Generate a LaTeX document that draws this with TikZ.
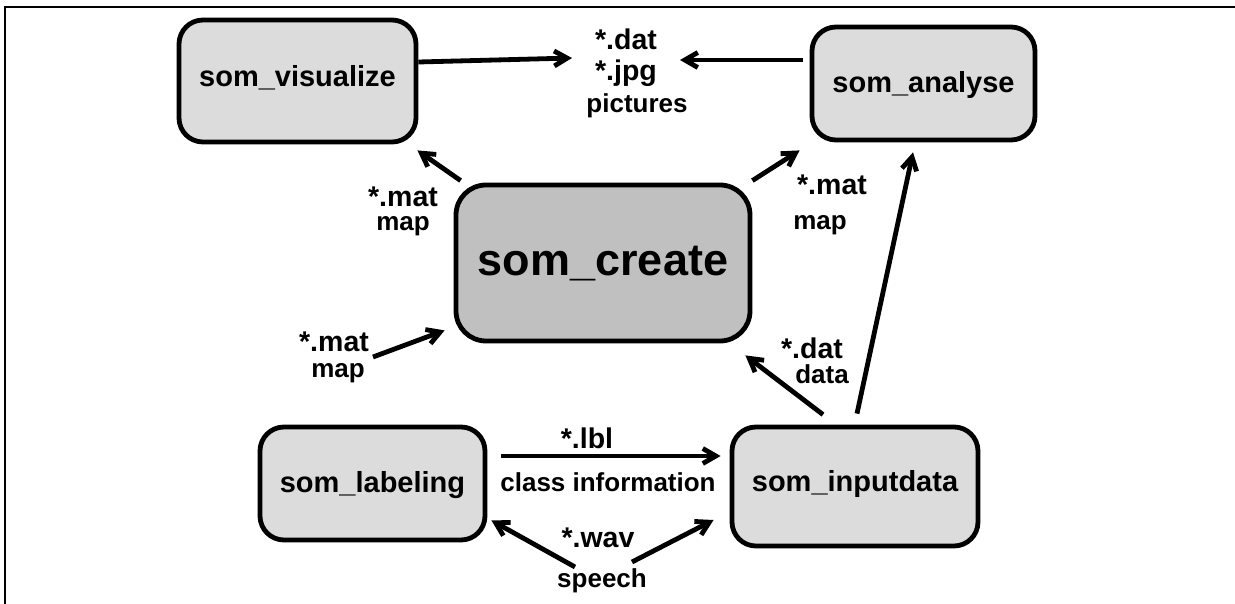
\documentclass[tikz,border=0pt]{standalone}
\usepackage{fontspec}
\setmainfont{Liberation Sans}
\usetikzlibrary{arrows.meta}
\definecolor{boxlight}{HTML}{DCDCDC}
\definecolor{boxdark}{HTML}{C0C0C0}
\begin{document}
\begin{tikzpicture}[x=1pt,y=-1pt,
  box/.style={draw, line width=4.8pt, rounded corners=24pt, fill=boxlight, inner sep=0pt,
              text height=21pt, text depth=0pt, font=\bfseries\fontsize{29}{34}\selectfont},
  ext/.style={anchor=base, inner sep=0pt, font=\bfseries\fontsize{28.5}{34}\selectfont},
  desc/.style={anchor=base, inner sep=0pt, font=\bfseries\fontsize{26}{31}\selectfont},
  arr/.style={line width=4.8pt, -{Straight Barb[length=13pt,width=15pt]}},
  frameline/.style={line width=2.5pt}
]
\useasboundingbox (0,0) rectangle (1235,604);
\fill[white] (0,0) rectangle (1235,604);
% frame (top and left edges only)
\draw[frameline] (5,604) -- (5,7) -- (1235,7);

% boxes
\node[box, minimum width=237pt, minimum height=122pt] (vis) at (297.5,81) {\raisebox{5pt}{som\_visualize}};
\node[box, minimum width=223pt, minimum height=113pt] (ana) at (923.5,83.5) {\raisebox{1.5pt}{som\_analyse}};
\node[box, fill=boxdark, minimum width=294pt, minimum height=156pt, rounded corners=30pt,
      text height=32pt, font=\bfseries\fontsize{45}{54}\selectfont] (cre) at (603,263) {\raisebox{3pt}{som\_create}};
\node[box, minimum width=225pt, minimum height=113pt] (lab) at (372.5,483.5) {\raisebox{1.5pt}{som\_labeling}};
\node[box, minimum width=246pt, minimum height=119pt] (inp) at (855,486.5) {\raisebox{5.5pt}{som\_inputdata}};

% labels
\node[ext]  (pdat) at (626,50)  {*.dat};
\node[ext]  (pjpg) at (626,81)  {*.jpg};
\node[desc] (ppic) at (637,113) {pictures};
\node[ext]  (mtl1) at (403,207) {*.mat};
\node[desc] (mtl2) at (403,231) {map};
\node[ext]  (mtr1) at (832,195) {*.mat};
\node[desc] (mtr2) at (820,230) {map};
\node[ext]  (mll1) at (334,352) {*.mat};
\node[desc] (mll2) at (338,377) {map};
\node[ext]  (dat1) at (812,358) {*.dat};
\node[desc] (dat2) at (822,383) {data};
\node[ext]  (lbl1) at (587,448) {*.lbl};
\node[desc] (lbl2) at (608,491) {class information};
\node[ext]  (wav1) at (598,547) {*.wav};
\node[desc] (wav2) at (602,587) {speech};

% free ends
\coordinate (picin1) at (572,58);
\coordinate (picin2) at (680,60);
\coordinate (matout) at (373,357);
\coordinate (spout1) at (575,567);
\coordinate (spout2) at (632,562);

% connectors
\draw[arr] ([shift={(0,-19)}]vis.east) -- (picin1);
\draw[arr] ([shift={(-7,-23.5)}]ana.west) -- (picin2);
\draw[arr] ([shift={(7,-2)}]cre.north west) -- ([shift={(-1,6)}]vis.south east);
\draw[arr] ([shift={(0,-2)}]cre.north east) -- ([shift={(-10,8)}]ana.south west);
\draw[arr] ([shift={(2,-11)}]inp.north) -- ([shift={(-10.5,10)}]ana.south);
\draw[arr] ([shift={(-32,-10)}]inp.north) -- ([shift={(-7,12)}]cre.south east);
\draw[arr] (matout) -- ([shift={(-9,-13)}]cre.south west);
\draw[arr] ([shift={(14,-27.5)}]lab.east) -- ([shift={(-9,-30.5)}]inp.west);
\draw[arr] (spout1) -- ([shift={(4,-22)}]lab.south east);
\draw[arr] (spout2) -- ([shift={(-16,33.5)}]inp.west);
\end{tikzpicture}
\end{document}
